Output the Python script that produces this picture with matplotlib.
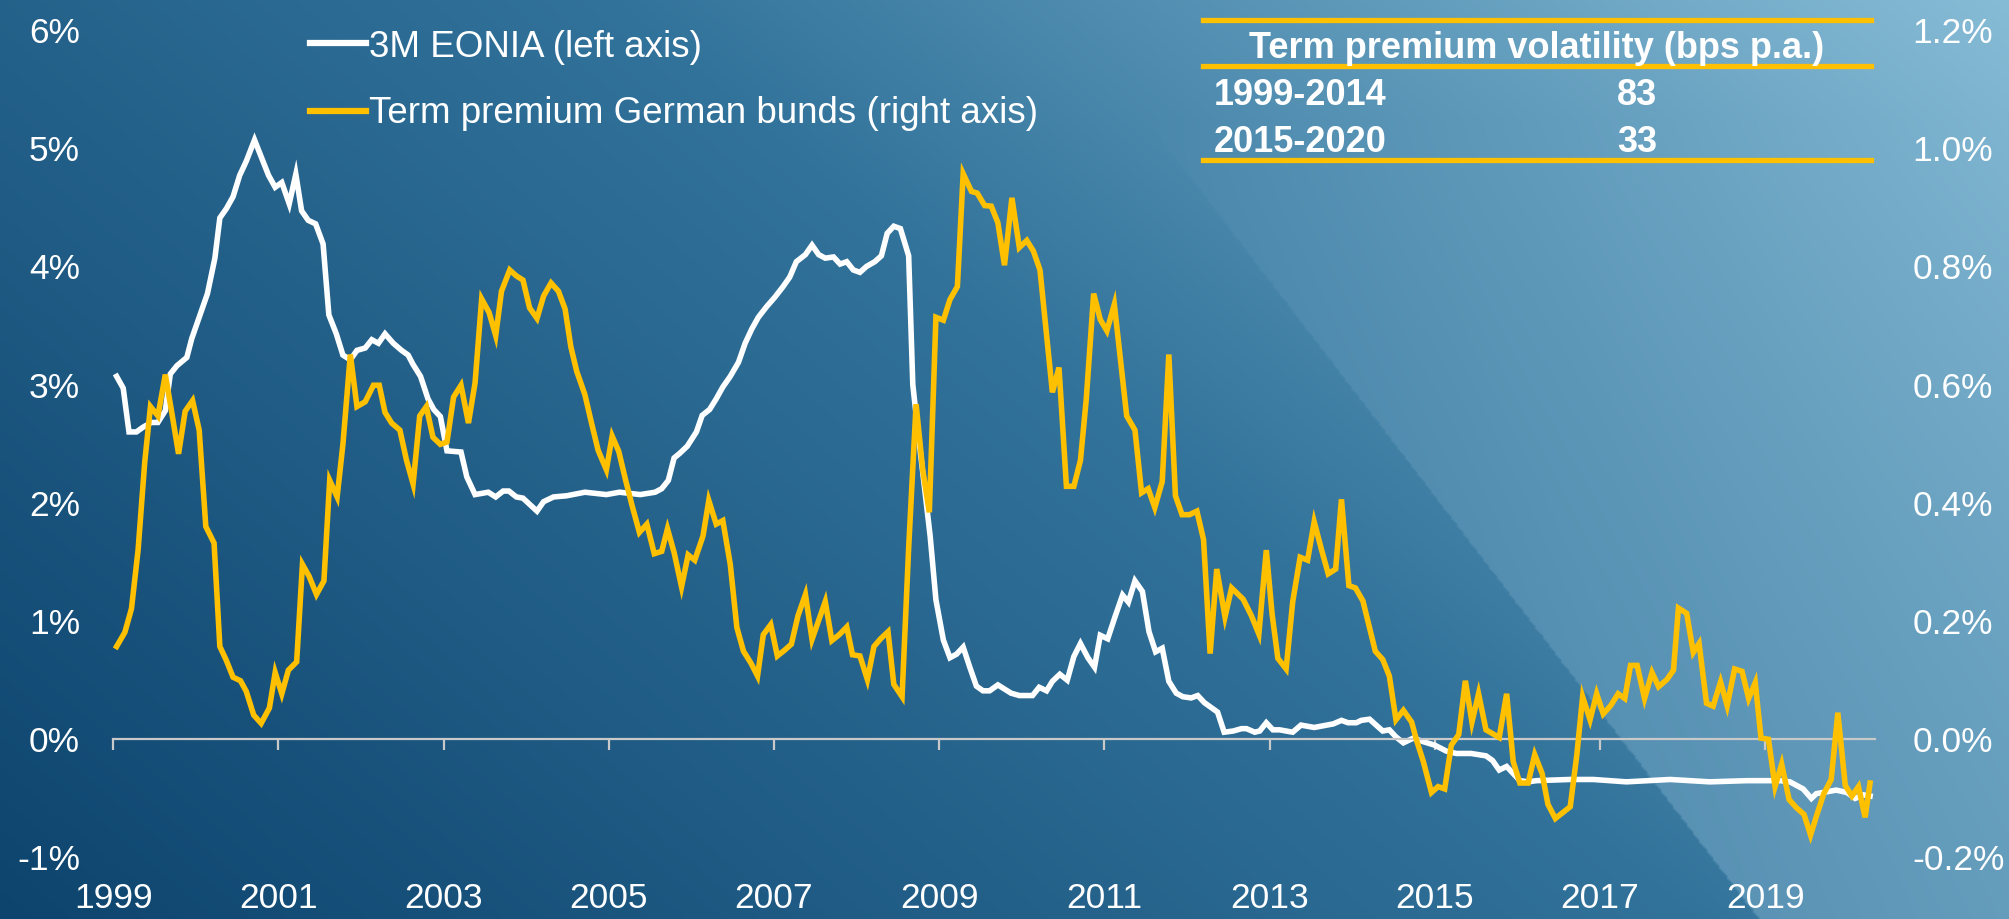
import numpy as np
import matplotlib.pyplot as plt
from matplotlib.lines import Line2D

plt.rcParams['font.family'] = ['Liberation Sans', 'DejaVu Sans']

# 3M EONIA, % (left axis)
eonia_t = [1999.04, 1999.12, 1999.19, 1999.28, 1999.36, 1999.46, 1999.54, 1999.63, 1999.69, 1999.77,
           1999.89, 1999.95, 2000.05, 2000.14, 2000.23, 2000.29, 2000.37, 2000.45, 2000.53, 2000.61,
           2000.71, 2000.80, 2000.88, 2000.96, 2001.04, 2001.13, 2001.21, 2001.28, 2001.36, 2001.45,
           2001.54, 2001.61, 2001.70, 2001.78, 2001.87, 2001.95, 2002.05, 2002.13, 2002.21, 2002.29,
           2002.39, 2002.49, 2002.57, 2002.63, 2002.72, 2002.81, 2002.88, 2002.96, 2003.04, 2003.21,
           2003.28, 2003.38, 2003.54, 2003.63, 2003.72, 2003.79, 2003.88, 2003.96, 2004.13, 2004.21,
           2004.33, 2004.49, 2004.71, 2004.97, 2005.13, 2005.38, 2005.56, 2005.64, 2005.72, 2005.79,
           2005.86, 2005.95, 2006.06, 2006.13, 2006.22, 2006.30, 2006.38, 2006.47, 2006.57, 2006.65,
           2006.73, 2006.81, 2006.91, 2007.01, 2007.11, 2007.19, 2007.27, 2007.38, 2007.46, 2007.54,
           2007.62, 2007.72, 2007.80, 2007.88, 2007.96, 2008.04, 2008.12, 2008.22, 2008.30, 2008.37,
           2008.45, 2008.53, 2008.63, 2008.68, 2008.73, 2008.81, 2008.89, 2008.96, 2009.05, 2009.13,
           2009.21, 2009.29, 2009.37, 2009.45, 2009.53, 2009.61, 2009.71, 2009.87, 2009.97, 2010.13,
           2010.21, 2010.30, 2010.37, 2010.46, 2010.55, 2010.63, 2010.71, 2010.80, 2010.88, 2010.95,
           2011.04, 2011.13, 2011.22, 2011.29, 2011.37, 2011.46, 2011.54, 2011.62, 2011.70, 2011.78,
           2011.87, 2011.95, 2012.05, 2012.13, 2012.21, 2012.29, 2012.37, 2012.45, 2012.56, 2012.66,
           2012.72, 2012.82, 2012.88, 2012.96, 2013.04, 2013.12, 2013.28, 2013.38, 2013.54, 2013.77,
           2013.87, 2013.95, 2014.05, 2014.11, 2014.21, 2014.29, 2014.37, 2014.45, 2014.53, 2014.62,
           2014.74, 2014.86, 2015.00, 2015.14, 2015.26, 2015.44, 2015.62, 2015.70, 2015.78, 2015.87,
           2015.95, 2016.03, 2016.13, 2016.23, 2016.63, 2016.92, 2017.32, 2017.85, 2018.33, 2018.78,
           2019.18, 2019.30, 2019.46, 2019.56, 2019.62, 2019.86, 2019.99, 2020.09, 2020.19, 2020.27]
eonia = [3.07, 2.97, 2.60, 2.60, 2.64, 2.68, 2.68, 2.78, 3.09, 3.16,
         3.23, 3.39, 3.59, 3.77, 4.07, 4.41, 4.49, 4.59, 4.77, 4.89,
         5.07, 4.91, 4.77, 4.67, 4.71, 4.53, 4.78, 4.47, 4.39, 4.36,
         4.19, 3.59, 3.43, 3.25, 3.21, 3.29, 3.31, 3.38, 3.35, 3.43,
         3.35, 3.29, 3.25, 3.17, 3.07, 2.88, 2.79, 2.73, 2.44, 2.43,
         2.22, 2.07, 2.09, 2.05, 2.10, 2.10, 2.05, 2.04, 1.93, 2.01,
         2.05, 2.06, 2.09, 2.07, 2.09, 2.07, 2.09, 2.12, 2.19, 2.38,
         2.42, 2.48, 2.60, 2.74, 2.79, 2.88, 2.98, 3.07, 3.19, 3.35,
         3.47, 3.57, 3.66, 3.74, 3.83, 3.91, 4.04, 4.10, 4.18, 4.10,
         4.07, 4.08, 4.02, 4.04, 3.97, 3.95, 4.00, 4.04, 4.09, 4.28,
         4.34, 4.32, 4.09, 3.00, 2.68, 2.20, 1.72, 1.18, 0.84, 0.69,
         0.72, 0.78, 0.61, 0.45, 0.41, 0.41, 0.46, 0.39, 0.37, 0.37,
         0.44, 0.41, 0.49, 0.55, 0.50, 0.70, 0.81, 0.69, 0.61, 0.88,
         0.85, 1.04, 1.22, 1.16, 1.34, 1.25, 0.91, 0.74, 0.77, 0.49,
         0.39, 0.36, 0.35, 0.37, 0.31, 0.27, 0.23, 0.06, 0.07, 0.09,
         0.09, 0.06, 0.07, 0.14, 0.08, 0.08, 0.06, 0.12, 0.10, 0.13,
         0.16, 0.14, 0.14, 0.16, 0.17, 0.12, 0.07, 0.08, 0.02, -0.03,
         0.01, -0.02, -0.05, -0.10, -0.12, -0.12, -0.14, -0.18, -0.26, -0.23,
         -0.29, -0.35, -0.36, -0.35, -0.34, -0.34, -0.36, -0.34, -0.36, -0.35,
         -0.35, -0.36, -0.42, -0.50, -0.46, -0.43, -0.45, -0.50, -0.47, -0.48]

# Term premium German bunds, % (right axis)
tp_t = [1999.04, 1999.14, 1999.22, 1999.30, 1999.38, 1999.45, 1999.54, 1999.63, 1999.71, 1999.79,
        1999.87, 1999.96, 2000.04, 2000.12, 2000.22, 2000.29, 2000.37, 2000.45, 2000.54, 2000.61,
        2000.70, 2000.79, 2000.89, 2000.96, 2001.04, 2001.12, 2001.22, 2001.29, 2001.37, 2001.46,
        2001.55, 2001.62, 2001.71, 2001.78, 2001.87, 2001.95, 2002.05, 2002.15, 2002.22, 2002.29,
        2002.37, 2002.47, 2002.55, 2002.63, 2002.71, 2002.79, 2002.87, 2002.96, 2003.04, 2003.12,
        2003.21, 2003.30, 2003.38, 2003.46, 2003.55, 2003.63, 2003.70, 2003.80, 2003.88, 2003.96,
        2004.04, 2004.13, 2004.21, 2004.30, 2004.39, 2004.47, 2004.54, 2004.61, 2004.71, 2004.79,
        2004.87, 2004.97, 2005.04, 2005.12, 2005.20, 2005.28, 2005.37, 2005.46, 2005.55, 2005.64,
        2005.71, 2005.79, 2005.88, 2005.96, 2006.04, 2006.14, 2006.21, 2006.30, 2006.38, 2006.47,
        2006.55, 2006.63, 2006.72, 2006.80, 2006.87, 2006.96, 2007.04, 2007.13, 2007.21, 2007.29,
        2007.38, 2007.46, 2007.54, 2007.62, 2007.70, 2007.79, 2007.88, 2007.95, 2008.04, 2008.13,
        2008.21, 2008.29, 2008.38, 2008.45, 2008.55, 2008.63, 2008.72, 2008.80, 2008.88, 2008.96,
        2009.05, 2009.13, 2009.22, 2009.29, 2009.39, 2009.46, 2009.55, 2009.63, 2009.71, 2009.79,
        2009.88, 2009.97, 2010.06, 2010.14, 2010.22, 2010.37, 2010.45, 2010.54, 2010.63, 2010.71,
        2010.78, 2010.87, 2010.95, 2011.03, 2011.12, 2011.19, 2011.27, 2011.37, 2011.45, 2011.53,
        2011.61, 2011.70, 2011.78, 2011.86, 2011.94, 2012.03, 2012.12, 2012.20, 2012.28, 2012.36,
        2012.46, 2012.54, 2012.68, 2012.78, 2012.87, 2012.96, 2013.03, 2013.10, 2013.20, 2013.28,
        2013.37, 2013.46, 2013.54, 2013.63, 2013.71, 2013.80, 2013.87, 2013.96, 2014.04, 2014.13,
        2014.28, 2014.37, 2014.45, 2014.53, 2014.62, 2014.72, 2014.78, 2014.86, 2014.96, 2015.04,
        2015.12, 2015.20, 2015.29, 2015.37, 2015.45, 2015.53, 2015.62, 2015.78, 2015.87, 2015.95,
        2016.03, 2016.13, 2016.21, 2016.30, 2016.37, 2016.46, 2016.64, 2016.72, 2016.79, 2016.88,
        2016.96, 2017.04, 2017.13, 2017.22, 2017.30, 2017.37, 2017.45, 2017.54, 2017.63, 2017.71,
        2017.81, 2017.89, 2017.95, 2018.05, 2018.13, 2018.20, 2018.29, 2018.37, 2018.46, 2018.54,
        2018.63, 2018.72, 2018.80, 2018.88, 2018.95, 2019.04, 2019.12, 2019.20, 2019.29, 2019.38,
        2019.47, 2019.55, 2019.63, 2019.71, 2019.80, 2019.88, 2019.97, 2020.05, 2020.13, 2020.21,
        2020.27]
tp = [0.157, 0.181, 0.221, 0.320, 0.468, 0.563, 0.547, 0.617, 0.551, 0.483,
      0.555, 0.573, 0.523, 0.360, 0.332, 0.157, 0.133, 0.105, 0.099, 0.081,
      0.041, 0.027, 0.053, 0.113, 0.077, 0.117, 0.131, 0.296, 0.276, 0.245,
      0.268, 0.438, 0.410, 0.499, 0.651, 0.563, 0.571, 0.599, 0.599, 0.553,
      0.535, 0.523, 0.472, 0.432, 0.547, 0.563, 0.511, 0.499, 0.503, 0.579,
      0.599, 0.535, 0.603, 0.745, 0.722, 0.683, 0.758, 0.794, 0.784, 0.777,
      0.730, 0.712, 0.750, 0.772, 0.758, 0.728, 0.664, 0.623, 0.583, 0.535,
      0.489, 0.456, 0.513, 0.487, 0.440, 0.396, 0.350, 0.364, 0.314, 0.318,
      0.356, 0.316, 0.258, 0.312, 0.303, 0.344, 0.404, 0.364, 0.370, 0.296,
      0.189, 0.149, 0.129, 0.107, 0.177, 0.194, 0.141, 0.151, 0.161, 0.209,
      0.245, 0.169, 0.201, 0.233, 0.167, 0.177, 0.190, 0.143, 0.141, 0.101,
      0.157, 0.170, 0.182, 0.093, 0.072, 0.324, 0.567, 0.456, 0.384, 0.714,
      0.709, 0.744, 0.766, 0.957, 0.927, 0.924, 0.903, 0.902, 0.874, 0.802,
      0.916, 0.832, 0.844, 0.826, 0.794, 0.587, 0.629, 0.428, 0.428, 0.472,
      0.575, 0.754, 0.710, 0.691, 0.736, 0.647, 0.547, 0.523, 0.417, 0.424,
      0.392, 0.436, 0.651, 0.412, 0.380, 0.380, 0.386, 0.338, 0.145, 0.288,
      0.207, 0.256, 0.237, 0.209, 0.178, 0.320, 0.212, 0.137, 0.119, 0.233,
      0.308, 0.303, 0.368, 0.320, 0.280, 0.288, 0.406, 0.260, 0.256, 0.234,
      0.149, 0.135, 0.107, 0.033, 0.049, 0.029, -0.002, -0.037, -0.090, -0.080,
      -0.084, -0.010, 0.008, 0.099, 0.029, 0.077, 0.016, 0.003, 0.077, -0.038,
      -0.074, -0.074, -0.026, -0.058, -0.110, -0.134, -0.114, -0.026, 0.072, 0.033,
      0.077, 0.043, 0.057, 0.077, 0.069, 0.125, 0.125, 0.069, 0.113, 0.089,
      0.101, 0.117, 0.222, 0.213, 0.147, 0.162, 0.061, 0.056, 0.097, 0.057,
      0.119, 0.115, 0.069, 0.096, 0.002, 0.000, -0.080, -0.042, -0.102, -0.116,
      -0.127, -0.162, -0.126, -0.092, -0.068, 0.045, -0.078, -0.096, -0.080, -0.132,
      -0.074]

left_ticks = [-1, 0, 1, 2, 3, 4, 5, 6]
right_ticks = [-0.2, 0.0, 0.2, 0.4, 0.6, 0.8, 1.0, 1.2]
year_ticks = list(range(1999, 2021, 2))

table_head = "Term premium volatility (bps p.a.)"
table_periods = ["1999-2014", "2015-2020"]
table_vol = ["83", "33"]

gold = '#FFC000'
W, H = 2009, 919

fig = plt.figure(figsize=(W / 100, H / 100), dpi=100)

# background: blue gradient getting lighter to the top right, plus a light band
h, w = 460, 1005
yy, xx = np.mgrid[0:h, 0:w]
px, py = xx * W / w, yy * H / h
s = 0.65 * px / W + 0.35 * (1 - py / H)
c0 = np.array([13, 68, 110])
cm = np.array([50, 115, 155])
c1 = np.array([135, 188, 214])
f1 = np.clip(s / 0.55, 0, 1)[..., None]
f2 = np.clip((s - 0.55) / 0.45, 0, 1)[..., None]
img = np.where(s[..., None] < 0.55, c0 + (cm - c0) * f1, cm + (c1 - cm) * f2)
mask = px > 1054 + 0.767 * py
a = 0.30 * np.clip((py - 120) / (H - 120), 0, 1) ** 0.8 * mask
light = np.array([175, 215, 235])
img = img * (1 - a[..., None]) + light * a[..., None]
bg = fig.add_axes([0, 0, 1, 1])
bg.imshow(img / 255, aspect='auto', extent=[0, 1, 0, 1], interpolation='bilinear')
bg.axis('off')

ax = fig.add_axes([113.3 / W, 1 - 857.5 / H, (1875 - 113.3) / W, (857.5 - 30) / H])
ax.patch.set_alpha(0)
ax.plot(eonia_t, eonia, color='white', lw=4, solid_joinstyle='miter')
ax.set_xlim(1999, 2020.33)
ax.set_ylim(-1, 6)
for sp in ['top', 'right', 'left']:
    ax.spines[sp].set_visible(False)
ax.spines['bottom'].set_position(('data', 0))
ax.spines['bottom'].set_color('#c9c9c9')
ax.spines['bottom'].set_linewidth(1.6)
ax.set_xticks(year_ticks)
ax.set_xticklabels([str(y) for y in year_ticks])
ax.tick_params(axis='x', direction='out', length=8, width=1.6, color='#c9c9c9',
               labelcolor='white', labelsize=25.5, pad=95)
ax.set_yticks(left_ticks)
ax.set_yticklabels([f"{v}%" for v in left_ticks])
ax.tick_params(axis='y', length=0, pad=24, labelcolor='white', labelsize=25.5)

ax2 = ax.twinx()
ax2.plot(tp_t, tp, color=gold, lw=4, solid_joinstyle='miter')
ax2.set_ylim(-0.2, 1.2)
for sp in ax2.spines.values():
    sp.set_visible(False)
ax2.set_yticks(right_ticks)
ax2.set_yticklabels([f"{v:.1f}%" for v in right_ticks])
ax2.tick_params(axis='y', length=0, pad=27, labelcolor='white', labelsize=25.5)

# legend
fx = lambda x: x / W
fy = lambda y: 1 - y / H
for yline, ybase, col, lab in [(43, 57, 'white', "3M EONIA (left axis)"),
                               (111, 123, gold, "Term premium German bunds (right axis)")]:
    fig.add_artist(Line2D([fx(310), fx(366)], [fy(yline)] * 2, color=col, lw=4.5,
                          transform=fig.transFigure))
    fig.text(fx(369), fy(ybase), lab, color='white', fontsize=26.5, va='baseline', ha='left')

# volatility table
for yl in [20, 66, 160]:
    fig.add_artist(Line2D([fx(1203), fx(1871)], [fy(yl)] * 2, color=gold, lw=3.8,
                          transform=fig.transFigure))
fig.text(fx(1537), fy(58), table_head, color='white', fontsize=26, fontweight='bold',
         ha='center', va='baseline')
for i, (per, vol) in enumerate(zip(table_periods, table_vol)):
    yb = [105, 152][i]
    fig.text(fx(1214), fy(yb), per, color='white', fontsize=26, fontweight='bold',
             ha='left', va='baseline')
    fig.text(fx(1637), fy(yb), vol, color='white', fontsize=26, fontweight='bold',
             ha='center', va='baseline')

fig.savefig('out.png', dpi=100)
